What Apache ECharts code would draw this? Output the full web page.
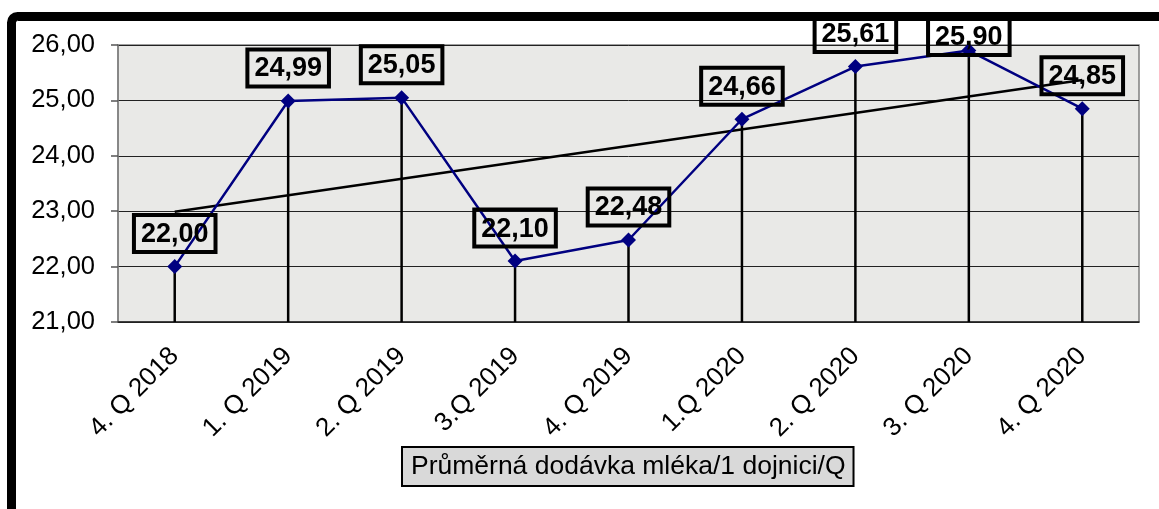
<!DOCTYPE html>
<html>
<head>
<meta charset="utf-8">
<script src="https://cdn.jsdelivr.net/npm/echarts@6/dist/echarts.min.js"></script>
<style>
html,body{margin:0;padding:0;background:#fff;}
#chart{width:1159px;height:509px;}
</style>
</head>
<body>
<div id="chart"></div>
<script>
const categories = ['4. Q 2018','1. Q 2019','2. Q 2019','3.Q 2019','4. Q 2019','1.Q 2020','2. Q 2020','3. Q 2020','4. Q 2020'];
const values = [22.00, 24.99, 25.05, 22.10, 22.48, 24.66, 25.61, 25.90, 24.85];
const trendEnds = [22.99, 25.37];
const seriesName = 'Průměrná dodávka mléka/1 dojnici/Q';
const yTicks = [21, 22, 23, 24, 25, 26];

const FONT = "'Liberation Sans', Arial, sans-serif";

const trendData = categories.map((c, i) => i === 0 ? trendEnds[0] : (i === categories.length - 1 ? trendEnds[1] : null));

const lineData = values.map((v, i) => {
  const item = { value: v };
  if (i === 7) item.label = { offset: [0, 19] };
  return item;
});

const chart = echarts.init(document.getElementById('chart'));
chart.setOption({
  animation: false,
  backgroundColor: '#fff',
  textStyle: { fontFamily: FONT },
  grid: {
    left: 118, right: 20, top: 45, bottom: 187,
    show: true, backgroundColor: '#e9e9e7', borderColor: '#808080', borderWidth: 1.5
  },
  legend: {
    data: [{ name: seriesName, icon: 'none' }],
    left: 402, top: 447,
    itemWidth: 0, itemHeight: 0, itemGap: 0,
    backgroundColor: '#d9d9d9', borderColor: '#000', borderWidth: 2,
    padding: [5, 8, 5, 4],
    textStyle: { fontFamily: FONT, fontSize: 26.5, lineHeight: 29, color: '#000' },
    selectedMode: false
  },
  xAxis: {
    type: 'category',
    data: categories,
    boundaryGap: true,
    axisLine: { lineStyle: { color: '#222', width: 1.5 } },
    axisTick: { show: false },
    axisLabel: { rotate: 45, interval: 0, margin: 30, fontSize: 26, color: '#000', fontFamily: FONT },
    splitLine: { show: false }
  },
  yAxis: {
    type: 'value',
    min: yTicks[0], max: yTicks[yTicks.length - 1], interval: 1,
    axisLine: { show: true, lineStyle: { color: '#808080', width: 1.5 } },
    axisTick: { show: true, length: 7, lineStyle: { color: '#555', width: 1.5 } },
    axisLabel: {
      margin: 23, fontSize: 25.5, color: '#000', fontFamily: FONT,
      formatter: v => v.toFixed(2).replace('.', ',')
    },
    splitLine: { show: true, lineStyle: { color: '#222', width: 1 } }
  },
  graphic: [{
    type: 'rect', silent: true, z: 100,
    shape: { x: 11.5, y: 16.5, width: 1300, height: 700, r: 6 },
    style: { fill: 'none', stroke: '#000', lineWidth: 9 }
  }],
  series: [
    {
      name: 'drop', type: 'bar', data: values, barWidth: 2.5,
      itemStyle: { color: '#000' }, silent: true, z: 1, clip: true
    },
    {
      name: 'trend', type: 'line', data: trendData, connectNulls: true,
      showSymbol: false, symbol: 'none',
      lineStyle: { color: '#000', width: 2.5 }, z: 2, silent: true
    },
    {
      name: seriesName, type: 'line', data: lineData,
      symbol: 'diamond', symbolSize: 15,
      itemStyle: { color: '#000080' },
      lineStyle: { color: '#000080', width: 2.5 },
      z: 3,
      label: {
        show: true, position: 'top', distance: 7,
        formatter: p => p.value.toFixed(2).replace('.', ','),
        fontFamily: FONT, fontSize: 27, fontWeight: 'bold', color: '#000',
        borderColor: '#000', borderWidth: 2, backgroundColor: 'transparent',
        padding: [5, 7, 3, 7], lineHeight: 29
      }
    }
  ]
});
</script>
</body>
</html>
